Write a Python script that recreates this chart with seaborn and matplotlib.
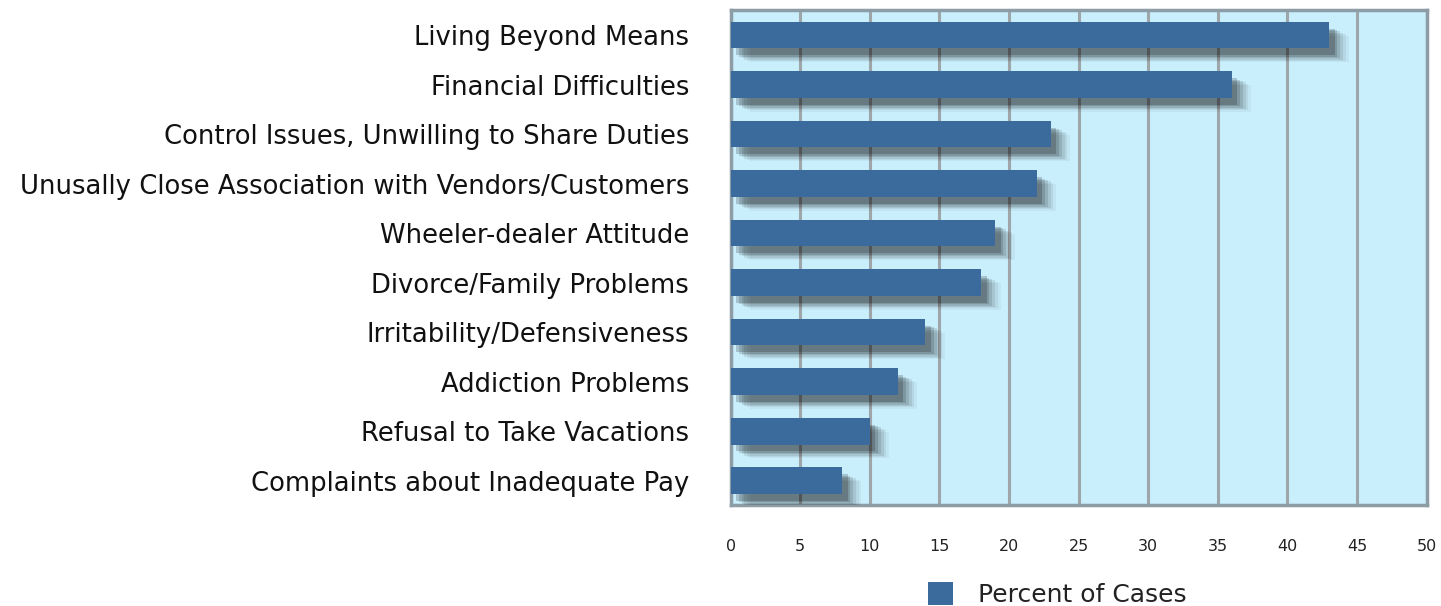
import matplotlib
matplotlib.use("Agg")
import matplotlib.pyplot as plt
import matplotlib.patheffects as pe
from matplotlib.patches import Patch
import seaborn as sns
import pandas as pd

categories = [
    "Living Beyond Means",
    "Financial Difficulties",
    "Control Issues, Unwilling to Share Duties",
    "Unusally Close Association with Vendors/Customers",
    "Wheeler-dealer Attitude",
    "Divorce/Family Problems",
    "Irritability/Defensiveness",
    "Addiction Problems",
    "Refusal to Take Vacations",
    "Complaints about Inadequate Pay",
]
percent_of_cases = [43, 36, 23, 22, 19, 18, 14, 12, 10, 8]
x_ticks = [0, 5, 10, 15, 20, 25, 30, 35, 40, 45, 50]
series_name = "Percent of Cases"

df = pd.DataFrame({"category": categories, "value": percent_of_cases})

sns.set_theme(style="white")
plt.rcParams["font.family"] = ["DejaVu Sans"]

BAR = "#3b6a9c"
BG = "#c9eefc"
FRAME = "#8d9da5"

fig = plt.figure(figsize=(14.41, 6.06), dpi=100)
ax = fig.add_axes([0.507, 0.166, 0.483, 0.817])
ax.set_facecolor(BG)

sns.barplot(data=df, x="value", y="category", orient="h", color=BAR,
            saturation=1, width=0.54, ax=ax, zorder=3)

shadow = [
    pe.SimplePatchShadow(offset=(14, -10), shadow_rgbFace="black", alpha=0.04),
    pe.SimplePatchShadow(offset=(12, -9), shadow_rgbFace="black", alpha=0.06),
    pe.SimplePatchShadow(offset=(10, -8), shadow_rgbFace="black", alpha=0.08),
    pe.SimplePatchShadow(offset=(8, -7), shadow_rgbFace="black", alpha=0.11),
    pe.SimplePatchShadow(offset=(6, -6), shadow_rgbFace="black", alpha=0.14),
    pe.SimplePatchShadow(offset=(4, -5), shadow_rgbFace="black", alpha=0.18),
    pe.Normal(),
]
for p in ax.patches:
    p.set_path_effects(shadow)
    p.set_edgecolor("none")

ax.set_xlim(0, 50)
ax.set_xticks(x_ticks)
ax.set_xticklabels([str(t) for t in x_ticks], fontsize=11.5, color="#222222")
ax.xaxis.grid(True, color="#9ea6aa", linewidth=2.2, zorder=0)
ax.yaxis.grid(False)
ax.set_axisbelow(True)
ax.tick_params(axis="x", length=5, width=2, color="#9ea6aa", pad=19)
ax.tick_params(axis="y", length=0, pad=30, labelsize=18.6, labelcolor="#111111")
ax.set_xlabel("")
ax.set_ylabel("")
for s in ax.spines.values():
    s.set_visible(True)
    s.set_color(FRAME)
    s.set_linewidth(2.5)

leg = ax.legend(handles=[Patch(facecolor=BAR, edgecolor="none", label=series_name)],
                loc="center", bbox_to_anchor=(0.47, -0.18), frameon=False,
                fontsize=18, handlelength=1.0, handleheight=1.0, handletextpad=1.0,
                borderpad=0, borderaxespad=0)
for t in leg.get_texts():
    t.set_color("#222222")

fig.savefig("out.png", dpi=100)
